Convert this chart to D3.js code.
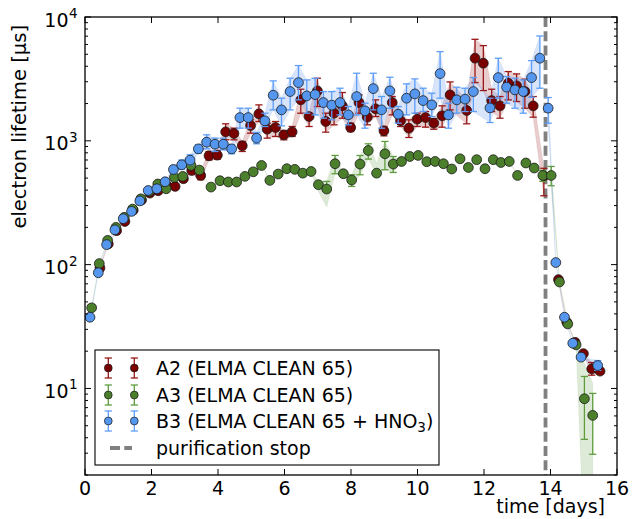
<!DOCTYPE html>
<html><head><meta charset="utf-8">
<script src="https://cdn.jsdelivr.net/npm/d3@7"></script>
<style>body{margin:0;background:#fff}</style>
</head><body><svg id="c" width="639" height="519"></svg>
<script>
// ---------- data ----------
const xTicks = [0, 2, 4, 6, 8, 10, 12, 14, 16];
const yDecades = [1, 2, 3, 4];
const purificationStop = 13.85;
const legendLabels = ["A2 (ELMA CLEAN 65)", "A3 (ELMA CLEAN 65)", "B3 (ELMA CLEAN 65 + HNO", "purification stop"];

const a2T = [0.45,0.70,0.95,1.20,1.45,1.70,1.95,2.20,2.46,2.71,2.96,3.21,3.48,3.73,3.98,4.23,4.48,4.73,4.98,5.23,5.48,5.73,5.98,6.23,6.49,6.74,6.99,7.24,7.49,7.74,7.99,8.24,8.49,8.74,8.99,9.24,9.49,9.74,9.99,10.24,10.49,10.74,10.98,11.48,11.73,11.98,12.23,12.48,12.73,12.98,13.23,13.48,13.80,14.24,14.49,14.74,14.99,15.24,15.49];
const a2V = [94,147,188,223,275,332,378,395,436,428,494,576,525,757,766,1181,1146,912,1330,1650,1242,1280,1117,1181,2142,1571,2530,1432,1673,1915,1280,2037,1553,1811,1204,2037,1450,1265,1496,1540,1390,1592,2350,1758,4646,4230,2113,1915,2918,2780,2500,1915,520,75.7,34.3,23.6,19.1,14.4,13.8];
const a2ErrT = [3.21,3.48,3.73,3.98,4.23,4.48,4.73,4.98,5.23,5.48,5.73,5.98,6.23,6.49,6.74,6.99,7.24,7.49,7.74,7.99,8.24,8.49,8.74,8.99,9.24,9.49,9.74,9.99,10.24,10.49,10.74,10.98,11.48,11.73,11.98,12.23,12.48,12.73,12.98,13.23,13.48,13.80,15.24];
const a2ErrLo = [540,485,700,710,1019,1019,820,1153,1432,1051,1084,1019,1084,1671,1305,1892,1175,1346,1523,1189,1671,1346,1571,1097,1620,1305,1064,1305,1289,1240,1289,1778,1372,2954,2546,1724,1523,2141,2076,1834,1552,360,12.8];
const a2ErrHi = [615,570,820,830,1372,1265,988,1477,1951,1388,1432,1205,1305,2610,1671,3202,1671,1916,2454,1388,2350,1778,2141,1305,2278,1620,1477,1671,1724,1510,1916,2990,2141,6605,5872,2610,2278,3624,3470,3143,2278,600,16.2];

const a3T = [0.20,0.43,0.68,0.93,1.18,1.43,1.68,1.93,2.19,2.44,2.69,2.94,3.19,3.44,3.79,4.06,4.31,4.56,4.81,5.06,5.31,5.56,5.81,6.07,6.31,6.55,6.80,7.02,7.27,7.52,7.77,8.02,8.27,8.52,8.77,9.02,9.27,9.52,9.77,10.02,10.28,10.53,10.78,11.03,11.28,11.53,11.78,12.03,12.28,12.51,12.76,13.01,13.26,13.51,13.77,14.02,14.27,14.52,14.77,15.02,15.27];
const a3V = [44.8,102,157,200,241,281,340,390,448,410,506,516,632,580,423,476,465,465,516,562,632,479,539,595,588,548,565,442,408,653,542,482,649,835,548,785,649,681,747,762,678,681,653,592,716,609,704,595,704,668,681,525,662,603,525,525,72.4,33.2,22.5,8.26,6.06];
const a3ErrT = [7.27,7.52,8.02,8.27,8.52,9.02,9.27,13.77,14.02,15.02,15.27];
const a3ErrLo = [403,542,428,532,712,584,555,470,434,3.88,2.94];
const a3ErrHi = [470,762,532,761,946,988,747,576,621,12.5,9.12];
const a3BandT = [7.02,7.27,8.77,15.02,15.27];
const a3BandLo = [390,292,540,0.5,0.5];
const a3BandHi = [470,470,660,16,11];

const b3T = [0.15,0.40,0.65,0.90,1.15,1.40,1.65,1.90,2.16,2.41,2.66,2.91,3.16,3.41,3.66,3.91,4.16,4.41,4.66,4.91,5.16,5.41,5.66,5.91,6.17,6.42,6.67,6.92,7.17,7.42,7.67,7.92,8.17,8.42,8.67,8.92,9.17,9.42,9.67,9.92,10.17,10.43,10.68,10.93,11.18,11.43,11.68,12.18,12.43,12.68,12.93,13.18,13.43,13.68,13.93,14.16,14.42,14.67,14.92,15.42];
const b3V = [37.6,86,145,191,235,269,327,397,410,467,587,640,698,861,975,939,939,861,1540,1540,1050,1450,2335,1778,2500,2950,2306,2363,2037,1940,2037,1620,2275,1746,2640,1778,2530,1640,2209,2393,2113,1950,3490,1620,2142,2170,2500,1845,3240,2710,2578,2500,3240,4646,1835,104,37.6,23.2,17.9,15.3];
const b3ErrT = [2.66,2.91,3.16,3.41,3.66,3.91,4.16,4.41,4.66,4.91,5.16,5.41,5.66,5.91,6.17,6.42,6.67,6.92,7.17,7.42,7.67,7.92,8.17,8.42,8.67,8.92,9.17,9.42,9.67,9.92,10.17,10.43,10.68,10.93,11.18,11.43,11.68,12.18,12.43,12.68,12.93,13.18,13.43,13.68,13.93,15.42];
const b3ErrLo = [545,590,641,795,862,820,846,786,1265,1265,946,1305,1778,1321,1778,2141,1671,1620,1523,1477,1620,1346,1620,1265,1778,1265,1834,1388,1620,1671,1724,1570,2209,1265,1671,1724,1724,1405,2209,2013,1834,1671,2250,2659,1388,14.0];
const b3ErrHi = [630,700,771,928,1118,1051,1051,928,1834,1834,1167,1671,3047,2209,3202,4051,3104,3202,2499,2499,2659,1892,3513,2013,3513,2278,3262,1892,2883,3162,2659,2423,5253,2013,2709,2659,3243,2209,4642,3303,3202,3104,4444,7027,2236,16.8];

// ---------- setup ----------
const FONT = "DejaVu Sans, Bitstream Vera Sans, sans-serif";
const FS = 19;
const L = 85, R = 617, T = 17, B = 475;
const svg = d3.select("#c");
const x = d3.scaleLinear().domain([0, 16]).range([L, R]);
const y = d3.scaleLog().domain([2, 10000]).range([B, T]);

svg.append("defs").append("clipPath").attr("id", "clip")
  .append("rect").attr("x", L).attr("y", T).attr("width", R - L).attr("height", B - T);

function build(tArr, vArr, eT, eLo, eHi, bT, bLo, bHi) {
  const key = v => v.toFixed(2);
  const em = new Map(eT.map((t, i) => [key(t), [eLo[i], eHi[i]]]));
  const bm = new Map((bT || []).map((t, i) => [key(t), [bLo[i], bHi[i]]]));
  return tArr.map((t, i) => {
    const e = em.get(key(t));
    const b = bm.get(key(t));
    const lo = e ? e[0] : null, hi = e ? e[1] : null;
    return { t, v: vArr[i], lo, hi,
      blo: b ? b[0] : (e ? lo : vArr[i]),
      bhi: b ? b[1] : (e ? hi : vArr[i]) };
  });
}

const series = [
  { name: "A2", data: build(a2T, a2V, a2ErrT, a2ErrLo, a2ErrHi),
    fill: "#7a0000", err: "#9a1818", band: "#b35c5c", bandOp: 0.3 },
  { name: "A3", data: build(a3T, a3V, a3ErrT, a3ErrLo, a3ErrHi, a3BandT, a3BandLo, a3BandHi),
    fill: "#4b7f2c", err: "#5e9c3e", band: "#7aac62", bandOp: 0.25 },
  { name: "B3", data: build(b3T, b3V, b3ErrT, b3ErrLo, b3ErrHi),
    fill: "#5597ee", err: "#5d9ef8", band: "#7ea6ee", bandOp: 0.3 }
];

const plot = svg.append("g").attr("clip-path", "url(#clip)");

// bands
const area = d3.area().x(d => x(d.t)).y0(d => y(d.blo)).y1(d => y(d.bhi));
series.forEach(s => {
  const segs = [s.data.filter(d => d.t < purificationStop), s.data.filter(d => d.t > purificationStop)];
  segs.forEach(seg => {
    if (seg.length < 2) return;
    plot.append("path").datum(seg).attr("d", area)
      .attr("fill", s.band).attr("fill-opacity", s.bandOp)
      .attr("stroke", s.band).attr("stroke-opacity", s.bandOp * 0.8).attr("stroke-width", 0.7);
  });
});

// purification stop line
plot.append("line")
  .attr("x1", x(purificationStop)).attr("x2", x(purificationStop))
  .attr("y1", T).attr("y2", B)
  .attr("stroke", "#808080").attr("stroke-width", 3.8).attr("stroke-dasharray", "10,4.3");

// error bars + markers
const CAP = 3.6;
series.forEach(s => {
  const g = plot.append("g");
  const eb = s.data.filter(d => d.lo != null);
  const eg = g.selectAll("g.eb").data(eb).join("g")
    .attr("stroke", s.err).attr("stroke-width", 1.3);
  eg.append("line").attr("x1", d => x(d.t)).attr("x2", d => x(d.t))
    .attr("y1", d => y(d.lo)).attr("y2", d => y(d.hi));
  eg.append("line").attr("x1", d => x(d.t) - CAP).attr("x2", d => x(d.t) + CAP)
    .attr("y1", d => y(d.lo)).attr("y2", d => y(d.lo));
  eg.append("line").attr("x1", d => x(d.t) - CAP).attr("x2", d => x(d.t) + CAP)
    .attr("y1", d => y(d.hi)).attr("y2", d => y(d.hi));
  g.selectAll("circle").data(s.data).join("circle")
    .attr("cx", d => x(d.t)).attr("cy", d => y(d.v)).attr("r", 4.9)
    .attr("fill", s.fill).attr("stroke", "#1a1a1a").attr("stroke-width", 0.8);
});

// frame
svg.append("rect").attr("x", L).attr("y", T).attr("width", R - L).attr("height", B - T)
  .attr("fill", "none").attr("stroke", "#000").attr("stroke-width", 1.3);

// ticks
const tk = svg.append("g").attr("stroke", "#000").attr("stroke-width", 1);
xTicks.forEach(t => {
  const px = x(t);
  tk.append("line").attr("x1", px).attr("x2", px).attr("y1", B).attr("y2", B - 6);
  tk.append("line").attr("x1", px).attr("x2", px).attr("y1", T).attr("y2", T + 6);
  svg.append("text").attr("x", px).attr("y", 495).attr("text-anchor", "middle")
    .attr("font-family", FONT).attr("font-size", FS).attr("fill", "#000").text(t);
});
const yMin = y.domain()[0], yMax = y.domain()[1];
for (let e = 0; e <= 4; e++) {
  for (let m = 1; m <= 9; m++) {
    const v = m * Math.pow(10, e);
    if (v < yMin || v > yMax) continue;
    const len = m === 1 ? 6 : 3;
    const py = y(v);
    tk.append("line").attr("x1", L).attr("x2", L + len).attr("y1", py).attr("y2", py);
    tk.append("line").attr("x1", R).attr("x2", R - len).attr("y1", py).attr("y2", py);
  }
}
yDecades.forEach(d => {
  const py = y(Math.pow(10, d));
  svg.append("text").attr("x", 68.5).attr("y", py + 9.5).attr("text-anchor", "end")
    .attr("font-family", FONT).attr("font-size", FS).attr("fill", "#000").text("10");
  svg.append("text").attr("x", 69).attr("y", py + 1).attr("text-anchor", "start")
    .attr("font-family", FONT).attr("font-size", 13.5).attr("fill", "#000").text(d);
});

// axis labels
svg.append("text").attr("x", 605).attr("y", 513).attr("text-anchor", "end")
  .attr("font-family", FONT).attr("font-size", FS).attr("fill", "#000").text("time [days]");
svg.append("text").attr("transform", "translate(26,25) rotate(-90)").attr("text-anchor", "end")
  .attr("font-family", FONT).attr("font-size", 19.5).attr("fill", "#000").text("electron lifetime [µs]");

// legend
const lg = svg.append("g");
lg.append("rect").attr("x", 95).attr("y", 350).attr("width", 344).attr("height", 115)
  .attr("fill", "#fff").attr("stroke", "#000").attr("stroke-width", 1.1);
const rowsY = [368, 395, 421, 448];
series.forEach((s, i) => {
  const ry = rowsY[i];
  [108.3, 134.3].forEach(mx => {
    const g = lg.append("g").attr("stroke", s.err).attr("stroke-width", 1.3);
    g.append("line").attr("x1", mx).attr("x2", mx).attr("y1", ry - 10).attr("y2", ry + 10);
    g.append("line").attr("x1", mx - CAP).attr("x2", mx + CAP).attr("y1", ry - 10).attr("y2", ry - 10);
    g.append("line").attr("x1", mx - CAP).attr("x2", mx + CAP).attr("y1", ry + 10).attr("y2", ry + 10);
    lg.append("circle").attr("cx", mx).attr("cy", ry).attr("r", 3.9)
      .attr("fill", s.fill).attr("stroke", "#1a1a1a").attr("stroke-width", 0.7);
  });
  const tx = lg.append("text").attr("x", 156).attr("y", ry + 6.8)
    .attr("font-family", FONT).attr("font-size", FS).attr("fill", "#000").text(legendLabels[i]);
  if (i === 2) {
    tx.append("tspan").attr("font-size", 13.5).attr("dy", 4).text("3");
    tx.append("tspan").attr("dy", -4).text(")");
  }
});
lg.append("line").attr("x1", 110).attr("x2", 132).attr("y1", rowsY[3]).attr("y2", rowsY[3])
  .attr("stroke", "#808080").attr("stroke-width", 3.8).attr("stroke-dasharray", "10,4.3");
lg.append("text").attr("x", 156).attr("y", rowsY[3] + 6.8)
  .attr("font-family", FONT).attr("font-size", FS).attr("fill", "#000").text(legendLabels[3]);
</script>
</body></html>
